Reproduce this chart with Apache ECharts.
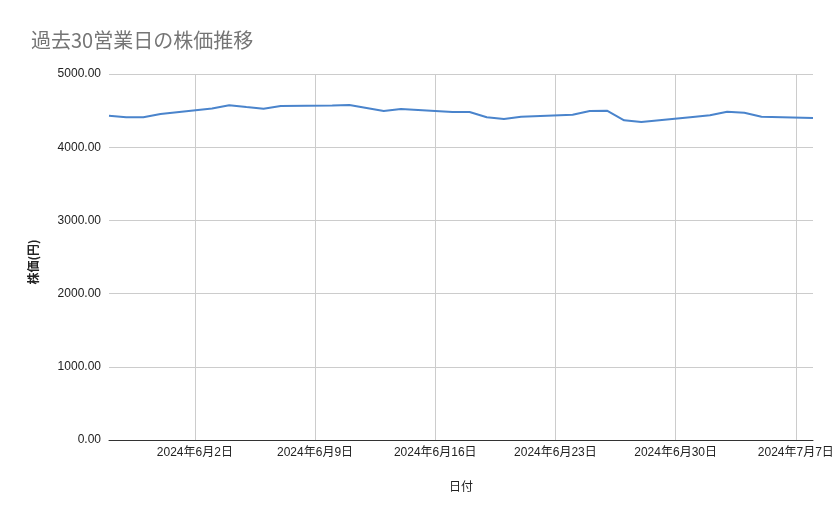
<!DOCTYPE html>
<html>
<head>
<meta charset="utf-8">
<script src="https://cdn.jsdelivr.net/npm/echarts@6/dist/echarts.min.js"></script>
<style>
html,body{margin:0;padding:0;background:#fff;}
#c{width:839px;height:519px;}
</style>
</head>
<body>
<div id="c"></div>
<script>
const titleText = '過去30営業日の株価推移';
const xAxisName = '日付';
const yAxisName = '株価(円)';
const dates = [
  '2024-05-28','2024-05-29','2024-05-30','2024-05-31',
  '2024-06-03','2024-06-04','2024-06-05','2024-06-06','2024-06-07',
  '2024-06-10','2024-06-11','2024-06-12','2024-06-13','2024-06-14',
  '2024-06-17','2024-06-18','2024-06-19','2024-06-20','2024-06-21',
  '2024-06-24','2024-06-25','2024-06-26','2024-06-27','2024-06-28',
  '2024-07-01','2024-07-02','2024-07-03','2024-07-04','2024-07-05',
  '2024-07-08'
];
const prices = [
  4430, 4408, 4408, 4454,
  4529, 4573, 4549, 4526, 4563,
  4570, 4577, 4536, 4495, 4522,
  4481, 4481, 4409, 4385, 4417,
  4444, 4495, 4498, 4367, 4344,
  4413, 4436, 4485, 4471, 4417,
  4399
];
const xTickDates = ['2024-06-02','2024-06-09','2024-06-16','2024-06-23','2024-06-30','2024-07-07'];
const yTicks = [0, 1000, 2000, 3000, 4000, 5000];

function ts(s){ const p = s.split('-').map(Number); return new Date(p[0], p[1]-1, p[2]).getTime(); }
const xTicks = xTickDates.map(ts);
const seriesData = dates.map((d,i)=>[ts(d), prices[i]]);

const chart = echarts.init(document.getElementById('c'), null, {renderer:'canvas'});
chart.setOption({
  backgroundColor:'#ffffff',
  animation:false,
  title:{
    text:titleText, left:26, top:25,
    textStyle:{fontSize:20, fontWeight:'normal', color:'#757575', fontFamily:'"Noto Sans CJK JP", sans-serif'}
  },
  grid:{left:109, right:26, top:74, bottom:79, containLabel:false},
  xAxis:{
    type:'value',
    min:ts(dates[0]), max:ts(dates[dates.length-1]),
    name:xAxisName, nameLocation:'middle', nameGap:40,
    nameTextStyle:{fontSize:12, color:'#222', fontFamily:'"Noto Sans CJK JP", sans-serif'},
    axisLine:{show:true, lineStyle:{color:'#333', width:1}},
    axisTick:{show:false, customValues:xTicks},
    axisLabel:{
      customValues:xTicks,
      fontSize:12, color:'#222', margin:7,
      fontFamily:'"Liberation Sans", "Noto Sans CJK JP", sans-serif',
      formatter:function(v){ const d=new Date(v); return d.getFullYear()+'年'+(d.getMonth()+1)+'月'+d.getDate()+'日'; }
    },
    splitLine:{show:true, lineStyle:{color:'#cccccc', width:1}}
  },
  yAxis:{
    type:'value', min:0, max:5000, interval:1000,
    name:yAxisName, nameLocation:'middle', nameGap:70, nameRotate:90,
    nameTextStyle:{fontSize:12, color:'#222', fontWeight:'bold', fontFamily:'"Noto Sans CJK JP", sans-serif', padding:[0,10,0,0]},
    axisLine:{show:false}, axisTick:{show:false},
    axisLabel:{fontSize:12, color:'#222', margin:8, fontFamily:'"Liberation Sans", Arial, sans-serif',
      formatter:function(v){ return v.toFixed(2); }},
    splitLine:{show:true, lineStyle:{color:'#cccccc', width:1}}
  },
  series:[{
    type:'line', data:seriesData, showSymbol:false, symbol:'none',
    lineStyle:{color:'#4a84cc', width:2}, itemStyle:{color:'#4a84cc'}
  }]
});
</script>
</body>
</html>
